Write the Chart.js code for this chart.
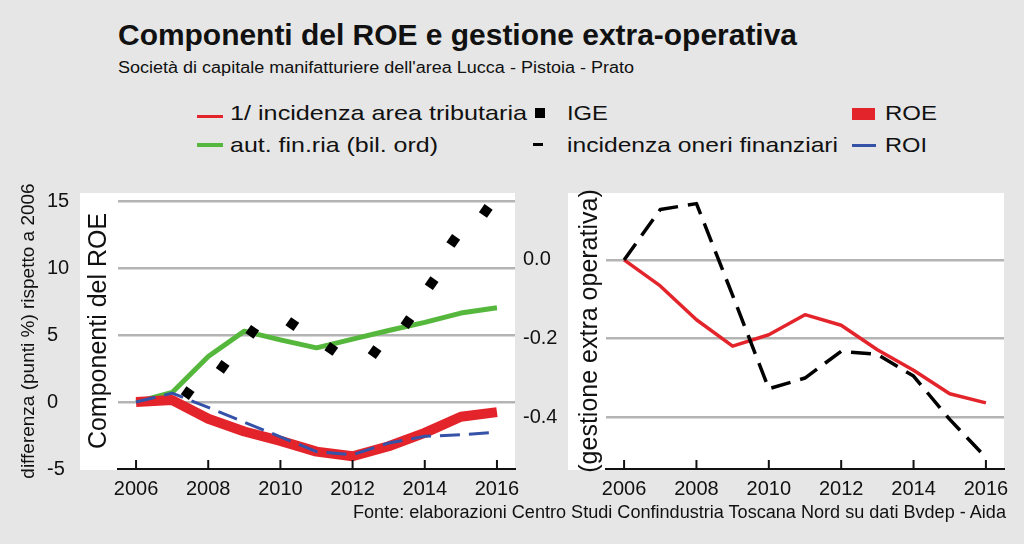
<!DOCTYPE html>
<html>
<head>
<meta charset="utf-8">
<script src="https://cdn.jsdelivr.net/npm/chart.js@4"></script>
<style>
  html, body { margin: 0; padding: 0; }
  body { width: 1024px; height: 544px; background: #e6e6e6; position: relative; overflow: hidden;
         font-family: 'Liberation Sans', Arial, sans-serif; color: #111; }
  .t { position: absolute; white-space: nowrap; transform-origin: left center; }
  .sym { position: absolute; }
  canvas { position: absolute; }
</style>
</head>
<body>
<!-- titolo -->
<div class="t" data-w="679" style="left:118px; top:18px; font-size:29px; line-height:34px; font-weight:bold;">Componenti del ROE e gestione extra-operativa</div>
<div class="t" data-w="516" style="left:118px; top:58px; font-size:16px; line-height:20px;">Società di capitale manifatturiere dell'area Lucca - Pistoia - Prato</div>

<!-- legenda -->
<div class="sym" style="left:197px; top:115px; width:26px; height:3px; background:#e4242b;"></div>
<div class="t" data-w="297" style="left:230px; top:101px; font-size:21px; line-height:24px;">1/ incidenza area tributaria</div>
<div class="sym" style="left:197px; top:143px; width:26px; height:4px; background:#55b83c;"></div>
<div class="t" data-w="208" style="left:230px; top:133px; font-size:21px; line-height:24px;">aut. fin.ria (bil. ord)</div>
<div class="sym" style="left:535px; top:108px; width:10px; height:10px; background:#000;"></div>
<div class="t" data-w="41" style="left:567px; top:101px; font-size:21px; line-height:24px;">IGE</div>
<div class="sym" style="left:533px; top:143px; width:10px; height:3px; background:#000;"></div>
<div class="t" data-w="271" style="left:567px; top:133px; font-size:21px; line-height:24px;">incidenza oneri finanziari</div>
<div class="sym" style="left:852px; top:108px; width:23px; height:12px; background:#e4242b;"></div>
<div class="t" data-w="52" style="left:885px; top:101px; font-size:21px; line-height:24px;">ROE</div>
<div class="sym" style="left:852px; top:144px; width:24px; height:3px; background:#3552a8;"></div>
<div class="t" data-w="42" style="left:885px; top:133px; font-size:21px; line-height:24px;">ROI</div>

<canvas id="leftChart" width="522" height="340" style="left:0px; top:170px;"></canvas>
<canvas id="rightChart" width="501" height="340" style="left:523px; top:170px;"></canvas>

<div class="t" data-w="653" style="left:353px; top:501px; font-size:18px; line-height:22px;">Fonte: elaborazioni Centro Studi Confindustria Toscana Nord su dati Bvdep - Aida</div>

<script>
// ---- dati ----
const years = [2006, 2007, 2008, 2009, 2010, 2011, 2012, 2013, 2014, 2015, 2016];
const tickYears = [2006, 2008, 2010, 2012, 2014, 2016];

// pannello sinistro: componenti del ROE (diff. in punti % rispetto al 2006)
const roe   = [0, 0.15, -1.25, -2.2, -2.9, -3.7, -4.05, -3.3, -2.3, -1.1, -0.75];
const roi   = [0, 0.67, -0.4, -1.5, -2.6, -3.7, -3.93, -3.06, -2.56, -2.44, -2.24];
const autFin = [0, 0.72, 3.4, 5.3, 4.65, 4.05, 4.7, 5.35, 5.95, 6.65, 7.05];
// IGE disegnato come puntini: posizioni
const igeX = [2007.43, 2008.40, 2009.22, 2010.33, 2011.41, 2012.61, 2013.52, 2014.19, 2014.79, 2015.69];
const igeY = [0.67, 2.63, 5.25, 5.83, 3.97, 3.73, 5.97, 8.88, 12.04, 14.28];
const leftTicks = [-5, 0, 5, 10, 15];

// pannello destro: gestione extra operativa
const tributaria = [0, -0.066, -0.152, -0.219, -0.19, -0.139, -0.166, -0.228, -0.28, -0.34, -0.363];
const oneriFin   = [0, 0.128, 0.143, -0.09, -0.327, -0.3, -0.232, -0.24, -0.295, -0.405, -0.502];
const rightTicks = [-0.4, -0.2, 0.0];

const RED = '#e4242b', GREEN = '#55b83c', BLUE = '#3552a8', GRID = '#b4b4b4';
const FONT = "'Liberation Sans', Arial, sans-serif";

const toXY = (xs, ys) => xs.map((x, i) => ({ x: x, y: ys[i] }));

// sfondo bianco del pannello (comprende il titolo interno)
const panelBg = {
    id: 'panelBg',
    beforeDraw(chart) {
        const { ctx, chartArea, scales } = chart;
        ctx.save();
        ctx.fillStyle = '#fff';
        const x0 = scales.yInner.left;
        ctx.fillRect(x0, chartArea.top, chartArea.right - x0, chartArea.bottom - chartArea.top + 1);
        ctx.restore();
    }
};

// tacche dell'asse x verso l'interno
const innerTicks = {
    id: 'innerTicks',
    afterDraw(chart) {
        const { ctx, chartArea, scales: { x } } = chart;
        ctx.save();
        ctx.strokeStyle = '#111';
        ctx.lineWidth = 2;
        tickYears.forEach(v => {
            const px = x.getPixelForValue(v);
            ctx.beginPath();
            ctx.moveTo(px, chartArea.bottom);
            ctx.lineTo(px, chartArea.bottom - 9);
            ctx.stroke();
        });
        ctx.restore();
    }
};

function xScale() {
    return {
        type: 'linear', min: 2005.5, max: 2016.5,
        grid: { display: false, drawTicks: false },
        border: { display: true, color: '#111', width: 2 },
        afterBuildTicks: s => { s.ticks = tickYears.map(v => ({ value: v })); },
        afterFit: s => { s.height = 41; s.paddingLeft = 0; s.paddingRight = 0; },
        ticks: { color: '#111', padding: 8, font: { family: FONT, size: 20 }, callback: v => String(v), maxRotation: 0 }
    };
}

function yScale(min, max, ticks, width, fmt, minHidden) {
    return {
        type: 'linear', position: 'left', weight: 1, min: min, max: max,
        border: { display: false },
        grid: { drawTicks: false, lineWidth: 2.5,
                color: c => (c.tick && c.tick.value === minHidden) ? 'rgba(0,0,0,0)' : GRID },
        afterBuildTicks: s => { s.ticks = ticks.map(v => ({ value: v })); },
        afterFit: s => { s.width = width; s.paddingTop = 0; s.paddingBottom = 0; },
        ticks: { color: '#111', crossAlign: 'far', padding: 0, font: { family: FONT, size: 20 }, callback: fmt }
    };
}

function titleAxis(text, size, pad, width, weight) {
    return {
        type: 'linear', position: 'left', weight: weight, display: true,
        grid: { display: false, drawTicks: false }, border: { display: false },
        ticks: { display: false },
        afterFit: s => { s.width = width; },
        title: { display: true, text: text, color: '#111', padding: { top: pad, bottom: 0 },
                 font: { family: FONT, size: size } }
    };
}

const common = {
    responsive: false,
    animation: false,
    plugins: { legend: { display: false }, tooltip: { enabled: false } },
    elements: { line: { tension: 0, borderCapStyle: 'butt', borderJoinStyle: 'round' }, point: { radius: 0 } }
};

new Chart(document.getElementById('leftChart'), {
    type: 'line',
    data: {
        datasets: [
            { label: 'IGE', data: toXY(igeX, igeY), showLine: false, order: 0,
              pointStyle: 'rect', pointRadius: 7, pointRotation: 35,
              pointBackgroundColor: '#000', pointBorderWidth: 0 },
            { label: 'ROI', data: toXY(years, roi), borderColor: BLUE, borderWidth: 3,
              borderDash: [20, 9], order: 1 },
            { label: 'ROE', data: toXY(years, roe), borderColor: RED, borderWidth: 10, order: 2 },
            { label: 'aut. fin.ria (bil. ord)', data: toXY(years, autFin), borderColor: GREEN,
              borderWidth: 5, order: 3 }
        ]
    },
    options: Object.assign({}, common, {
        layout: { padding: { top: 23, right: 5, left: 0, bottom: 0 } },
        scales: {
            x: xScale(),
            y: yScale(-5, 15.62, leftTicks, 33, v => String(v), -5),
            yOuter: titleAxis('differenza (punti %) rispetto a 2006', 19, 17, 47, 2),
            yInner: titleAxis('Componenti del ROE', 25, 4, 38, 0)
        }
    }),
    plugins: [panelBg, innerTicks]
});

new Chart(document.getElementById('rightChart'), {
    type: 'line',
    data: {
        datasets: [
            { label: 'incidenza oneri finanziari', data: toXY(years, oneriFin), borderColor: '#000',
              borderWidth: 3.5, borderDash: [20, 10], order: 0 },
            { label: '1/ incidenza area tributaria', data: toXY(years, tributaria), borderColor: RED,
              borderWidth: 3.5, order: 1 }
        ]
    },
    options: Object.assign({}, common, {
        layout: { padding: { top: 23, right: 20, left: 0, bottom: 0 } },
        scales: {
            x: xScale(),
            y: yScale(-0.531, 0.17, rightTicks, 45, v => v.toFixed(1), null),
            yInner: titleAxis('(gestione extra operativa)', 25, 7, 38, 0)
        }
    }),
    plugins: [panelBg, innerTicks]
});

// adatta la larghezza dei testi HTML a quella del riferimento
document.querySelectorAll('[data-w]').forEach(el => {
    const w = el.getBoundingClientRect().width;
    if (w > 0) el.style.transform = 'scaleX(' + (el.dataset.w / w) + ')';
});
</script>
</body>
</html>
